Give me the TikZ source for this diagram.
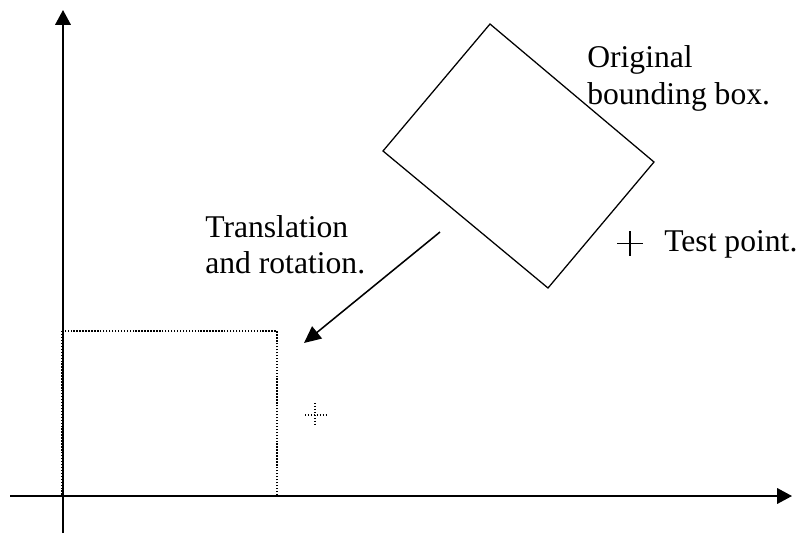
\documentclass[tikz,border=0pt]{standalone}
\usepackage{fontspec}
\setmainfont{Liberation Serif}
\usepackage{tikz}
\usetikzlibrary{arrows.meta}

\tikzset{
  axisline/.style={line width=1.2pt,-{Triangle[width=11pt,length=10.5pt]}},
  origbox/.style={line width=0.9pt,line join=miter},
  movedbox/.style={line width=1.1pt,dash pattern=on 1pt off 1.1pt},
  movearrow/.style={line width=1.1pt,-{Triangle[width=11pt,length=12pt]}},
  txt/.style={anchor=base west,inner sep=0pt,font=\fontsize{22.5}{26.3}\selectfont}
}

\begin{document}
\begin{tikzpicture}[x=0.025cm,y=-0.025cm]
\useasboundingbox (0,0) rectangle (802,535);

% axes
\coordinate (ybot) at (63,533);
\coordinate (ytop) at (63,10);
\coordinate (xleft) at (10,496);
\coordinate (xright) at (792,496);
\draw [axisline] (ybot) -- (ytop);
\draw [axisline] (xleft) -- (xright);

% original bounding box
\draw [origbox] (490,24) -- (654,162) -- (548,288) -- (383,151) -- cycle;
\node[txt] (orig1) at (587,67) {Original};
\node[txt] (orig2) at (587,104) {bounding box.};

% test point
\draw [line width=1pt] (617,243.5) -- (643,243.5);
\draw [line width=1pt] (630,231) -- (630,256);
\node[txt] (test) at (664,251) {Test point.};

% translation arrow
\coordinate (movefrom) at (440,232);
\coordinate (moveto) at (304,343);
\draw [movearrow] (movefrom) -- (moveto);
\node[txt] (trans1) at (205,237) {Translation};
\node[txt] (trans2) at (205,273) {and rotation.};

% moved box and moved point
\draw [movedbox] (62,331) rectangle (277,496);
\draw [movedbox] (305,415) -- (327,415);
\draw [movedbox] (315,403) -- (315,426);

\end{tikzpicture}
\end{document}
